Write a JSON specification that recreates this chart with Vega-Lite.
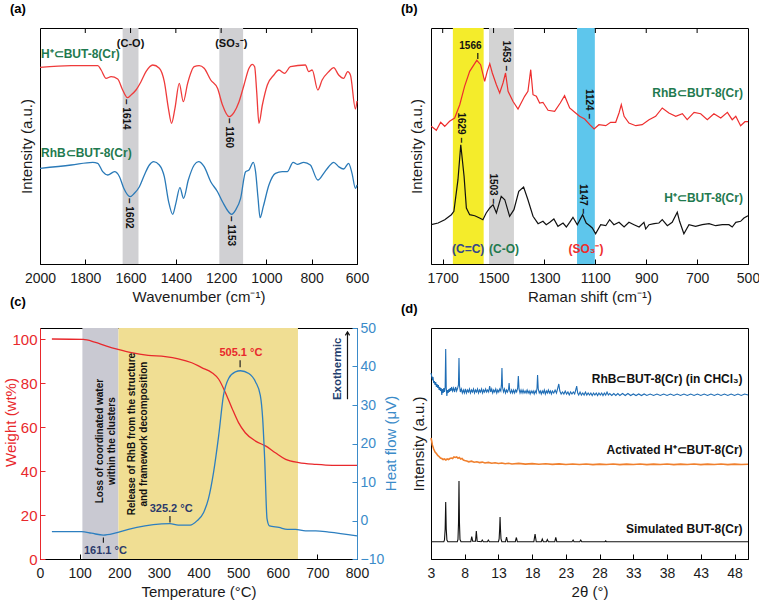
{
"$schema":"https://vega.github.io/schema/vega-lite/v6.json",
"background":"white",
"padding":{"left":2,"top":2,"right":0,"bottom":0},
"autosize":{"type":"pad"},
"config":{
 "font":"Liberation Sans",
 "view":{"stroke":"black","strokeWidth":1},
 "axis":{"grid":false,"labelFontSize":14,"titleFontSize":15,"titleFontWeight":"normal","labelColor":"#1a1a1a","titleColor":"#1a1a1a","domainColor":"black","tickColor":"black","labelFont":"Liberation Sans","titleFont":"Liberation Sans","labelOverlap":false,"labelFlush":false},
 "title":{"fontSize":13,"fontWeight":"bold","anchor":"start","font":"Liberation Sans"},
 "text":{"font":"Liberation Sans"}
},
"datasets":{
"a_red":[{"wn":2000,"v":196.7},{"wn":1862,"v":198.3},{"wn":1745,"v":198.3},{"wn":1730,"v":194},{"wn":1708,"v":185.7},{"wn":1686,"v":187.3},{"wn":1657,"v":185},{"wn":1635,"v":174},{"wn":1614,"v":166.3},{"wn":1598,"v":169},{"wn":1576,"v":174},{"wn":1554,"v":182.3},{"wn":1532,"v":192.3},{"wn":1502,"v":199},{"wn":1473,"v":195.7},{"wn":1451,"v":182.3},{"wn":1433,"v":155.7},{"wn":1419,"v":140.7},{"wn":1404,"v":155.7},{"wn":1385,"v":180.7},{"wn":1367,"v":162.3},{"wn":1348,"v":180.7},{"wn":1319,"v":197.3},{"wn":1297,"v":198.3},{"wn":1275,"v":195.7},{"wn":1246,"v":184},{"wn":1216,"v":175.7},{"wn":1194,"v":159},{"wn":1165,"v":147.3},{"wn":1143,"v":151.7},{"wn":1121,"v":162.3},{"wn":1099,"v":179},{"wn":1077,"v":195.7},{"wn":1062,"v":199.7},{"wn":1052,"v":197.3},{"wn":1043,"v":172.3},{"wn":1033,"v":140.7},{"wn":1018,"v":159},{"wn":996,"v":179},{"wn":967,"v":189},{"wn":945,"v":194},{"wn":920,"v":190.7},{"wn":894,"v":197.3},{"wn":828,"v":199},{"wn":813,"v":192.3},{"wn":798,"v":194},{"wn":773,"v":174},{"wn":754,"v":184},{"wn":725,"v":192.3},{"wn":703,"v":196.3},{"wn":681,"v":189},{"wn":659,"v":185.7},{"wn":641,"v":192.3},{"wn":629,"v":189},{"wn":607,"v":155},{"wn":600,"v":163}],
"a_blue":[{"wn":2000,"v":95.7},{"wn":1862,"v":99},{"wn":1767,"v":101.7},{"wn":1745,"v":100.7},{"wn":1723,"v":92.3},{"wn":1701,"v":89},{"wn":1671,"v":92.3},{"wn":1649,"v":87.3},{"wn":1630,"v":75.7},{"wn":1602,"v":67.3},{"wn":1583,"v":70.7},{"wn":1561,"v":77.3},{"wn":1539,"v":89},{"wn":1517,"v":99},{"wn":1498,"v":102.3},{"wn":1473,"v":99},{"wn":1451,"v":87.3},{"wn":1432,"v":62.3},{"wn":1414,"v":49.7},{"wn":1400,"v":60.7},{"wn":1382,"v":76.3},{"wn":1366,"v":65.7},{"wn":1345,"v":84},{"wn":1319,"v":99},{"wn":1300,"v":102.3},{"wn":1275,"v":97.3},{"wn":1246,"v":82.3},{"wn":1216,"v":72.3},{"wn":1194,"v":62.3},{"wn":1153,"v":49.7},{"wn":1136,"v":54},{"wn":1114,"v":65.7},{"wn":1092,"v":92.3},{"wn":1077,"v":94},{"wn":1058,"v":101.7},{"wn":1048,"v":92.3},{"wn":1037,"v":65.7},{"wn":1028,"v":46.3},{"wn":1014,"v":57.3},{"wn":989,"v":79},{"wn":960,"v":90.7},{"wn":930,"v":92.3},{"wn":908,"v":92.3},{"wn":882,"v":101.7},{"wn":864,"v":99.7},{"wn":835,"v":101.7},{"wn":806,"v":99},{"wn":773,"v":84},{"wn":747,"v":90.7},{"wn":725,"v":97.3},{"wn":703,"v":101.7},{"wn":681,"v":97.3},{"wn":659,"v":95},{"wn":637,"v":100.7},{"wn":622,"v":90.7},{"wn":607,"v":75.7},{"wn":600,"v":79}],
"b_red":[{"wn":1745,"v":137.7},{"wn":1725,"v":133.7},{"wn":1708,"v":141.7},{"wn":1692,"v":137.7},{"wn":1673,"v":142.7},{"wn":1653,"v":146},{"wn":1633,"v":159.3},{"wn":1614,"v":177.7},{"wn":1594,"v":192.7},{"wn":1566,"v":203.7},{"wn":1551,"v":199.3},{"wn":1535,"v":182.7},{"wn":1525,"v":192.7},{"wn":1515,"v":200.3},{"wn":1505,"v":191},{"wn":1489,"v":179.3},{"wn":1476,"v":171},{"wn":1463,"v":181},{"wn":1453,"v":191},{"wn":1443,"v":172.7},{"wn":1424,"v":162.7},{"wn":1404,"v":155},{"wn":1378,"v":167.7},{"wn":1365,"v":172.7},{"wn":1354,"v":194.3},{"wn":1345,"v":169.3},{"wn":1332,"v":167.7},{"wn":1319,"v":161},{"wn":1306,"v":161.7},{"wn":1286,"v":153.7},{"wn":1260,"v":152.7},{"wn":1238,"v":161},{"wn":1221,"v":168.3},{"wn":1201,"v":156},{"wn":1181,"v":151.7},{"wn":1162,"v":147.7},{"wn":1142,"v":145},{"wn":1122,"v":139.3},{"wn":1105,"v":135},{"wn":1086,"v":139.3},{"wn":1059,"v":138.3},{"wn":1040,"v":141.7},{"wn":1020,"v":141.7},{"wn":1007,"v":151},{"wn":998,"v":159.3},{"wn":987,"v":147.7},{"wn":968,"v":141},{"wn":941,"v":138.3},{"wn":916,"v":139.3},{"wn":889,"v":144.3},{"wn":863,"v":147.7},{"wn":837,"v":156},{"wn":811,"v":151},{"wn":784,"v":147.7},{"wn":758,"v":150.3},{"wn":739,"v":144.3},{"wn":712,"v":151.7},{"wn":686,"v":150.3},{"wn":660,"v":144.3},{"wn":634,"v":150.3},{"wn":607,"v":146},{"wn":581,"v":151.7},{"wn":562,"v":144.3},{"wn":548,"v":147.7},{"wn":529,"v":138.3},{"wn":512,"v":142.3},{"wn":500,"v":142.3}],
"b_black":[{"wn":1745,"v":39.3},{"wn":1718,"v":41},{"wn":1692,"v":44.3},{"wn":1666,"v":49.3},{"wn":1656,"v":52.7},{"wn":1640,"v":84.3},{"wn":1629,"v":119.3},{"wn":1616,"v":87.7},{"wn":1607,"v":56},{"wn":1594,"v":49.3},{"wn":1574,"v":48.3},{"wn":1555,"v":46},{"wn":1542,"v":44.3},{"wn":1529,"v":51},{"wn":1515,"v":56},{"wn":1502,"v":59.3},{"wn":1489,"v":51},{"wn":1470,"v":67.7},{"wn":1456,"v":64.3},{"wn":1437,"v":47.7},{"wn":1420,"v":54.3},{"wn":1401,"v":72.7},{"wn":1382,"v":77},{"wn":1365,"v":64.3},{"wn":1345,"v":47.7},{"wn":1325,"v":40.3},{"wn":1306,"v":42.7},{"wn":1293,"v":39.3},{"wn":1279,"v":41.7},{"wn":1263,"v":45},{"wn":1247,"v":37.7},{"wn":1227,"v":41},{"wn":1214,"v":37},{"wn":1201,"v":41.7},{"wn":1188,"v":46.7},{"wn":1171,"v":39.3},{"wn":1150,"v":49.3},{"wn":1136,"v":41},{"wn":1122,"v":38.3},{"wn":1112,"v":36},{"wn":1099,"v":30.3},{"wn":1079,"v":39.3},{"wn":1059,"v":38.3},{"wn":1044,"v":44.3},{"wn":1027,"v":39.3},{"wn":1007,"v":41.7},{"wn":987,"v":37},{"wn":968,"v":41.7},{"wn":948,"v":39.3},{"wn":928,"v":37},{"wn":909,"v":41.7},{"wn":902,"v":35},{"wn":889,"v":39.3},{"wn":869,"v":40.3},{"wn":850,"v":41},{"wn":837,"v":44.3},{"wn":817,"v":38.3},{"wn":798,"v":41.7},{"wn":778,"v":51.7},{"wn":769,"v":42.7},{"wn":752,"v":30.3},{"wn":732,"v":39.3},{"wn":706,"v":37.7},{"wn":680,"v":39.3},{"wn":653,"v":40.3},{"wn":627,"v":38.3},{"wn":601,"v":39.3},{"wn":575,"v":39.3},{"wn":562,"v":37},{"wn":548,"v":41.7},{"wn":529,"v":42.7},{"wn":516,"v":46},{"wn":500,"v":48.3}],
"c_tga":[{"T":30,"w":100},{"T":109,"w":99.8},{"T":138,"w":98.6},{"T":168,"w":96.8},{"T":197,"w":95.3},{"T":231,"w":93.8},{"T":273,"w":92.6},{"T":316,"w":92},{"T":349,"w":91},{"T":383,"w":89.2},{"T":408,"w":87},{"T":434,"w":84.7},{"T":451,"w":81.7},{"T":468,"w":75.6},{"T":484,"w":68.8},{"T":501,"w":62},{"T":518,"w":57.4},{"T":544,"w":53.6},{"T":569,"w":51.4},{"T":594,"w":48.3},{"T":620,"w":45.3},{"T":653,"w":43.8},{"T":696,"w":43},{"T":738,"w":42.6},{"T":800,"w":42.6}],
"c_dsc":[{"T":30,"h":-2.9},{"T":105,"h":-2.9},{"T":130,"h":-3.3},{"T":160,"h":-3.8},{"T":189,"h":-3.3},{"T":223,"h":-2.3},{"T":265,"h":-1.4},{"T":307,"h":-0.9},{"T":328,"h":-0.8},{"T":349,"h":-1.2},{"T":379,"h":-1.2},{"T":396,"h":-0.1},{"T":413,"h":2.1},{"T":425,"h":5.6},{"T":438,"h":12.5},{"T":451,"h":22.1},{"T":463,"h":32.5},{"T":476,"h":36.9},{"T":493,"h":38.6},{"T":506,"h":38.9},{"T":527,"h":38.2},{"T":544,"h":36},{"T":556,"h":32.5},{"T":562,"h":26.4},{"T":567,"h":16},{"T":573,"h":0.4},{"T":579,"h":-1.4},{"T":603,"h":-1.8},{"T":624,"h":-2.3},{"T":645,"h":-2.3},{"T":670,"h":-2.7},{"T":696,"h":-2.7},{"T":729,"h":-3},{"T":800,"h":-4}],
"d_black":[{"t":3,"v":17.3},{"t":4.9,"v":17.3},{"t":5.0,"v":19},{"t":5.1,"v":30},{"t":5.18,"v":57},{"t":5.26,"v":30},{"t":5.36,"v":19},{"t":5.5,"v":17.3},{"t":6.9,"v":17.3},{"t":7.0,"v":19.5},{"t":7.08,"v":36},{"t":7.15,"v":78},{"t":7.22,"v":36},{"t":7.3,"v":19.5},{"t":7.45,"v":17.3},{"t":8.9,"v":17.3},{"t":9.04,"v":22.5},{"t":9.18,"v":17.8},{"t":9.6,"v":17.8},{"t":9.72,"v":28},{"t":9.85,"v":17.8},{"t":10.45,"v":17.3},{"t":10.6,"v":19},{"t":10.75,"v":17.3},{"t":11.35,"v":17.3},{"t":11.5,"v":19},{"t":11.65,"v":17.3},{"t":13.0,"v":17.3},{"t":13.1,"v":20},{"t":13.18,"v":30},{"t":13.24,"v":42},{"t":13.3,"v":30},{"t":13.38,"v":20},{"t":13.5,"v":17.3},{"t":14.05,"v":17.3},{"t":14.2,"v":22},{"t":14.35,"v":17.3},{"t":15.5,"v":17.3},{"t":15.66,"v":21.5},{"t":15.8,"v":17.3},{"t":18.25,"v":17.3},{"t":18.43,"v":25},{"t":18.6,"v":17.3},{"t":19.35,"v":17.3},{"t":19.5,"v":20},{"t":19.65,"v":17.3},{"t":20.1,"v":17.3},{"t":20.25,"v":19.5},{"t":20.4,"v":17.3},{"t":21.35,"v":17.3},{"t":21.5,"v":21.5},{"t":21.65,"v":17.3},{"t":23.9,"v":17.3},{"t":24.07,"v":19},{"t":24.2,"v":17.3},{"t":25.05,"v":17.3},{"t":25.2,"v":19},{"t":25.35,"v":17.3},{"t":28.8,"v":17.3},{"t":28.9,"v":18.2},{"t":29.0,"v":17.3},{"t":50,"v":17.3}],
"d_orange":[{"t":3,"v":121},{"t":3.1,"v":118},{"t":3.2,"v":114},{"t":3.3,"v":112},{"t":3.4,"v":110},{"t":3.5,"v":108.5},{"t":3.6,"v":107},{"t":3.8,"v":105.5},{"t":4.0,"v":103.5},{"t":4.2,"v":102.5},{"t":4.4,"v":101},{"t":4.6,"v":100.5},{"t":4.8,"v":99.5},{"t":5.0,"v":100},{"t":5.2,"v":99},{"t":5.4,"v":100},{"t":5.6,"v":99.5},{"t":5.8,"v":100.5},{"t":6.0,"v":101},{"t":6.2,"v":100.5},{"t":6.4,"v":102},{"t":6.6,"v":101.5},{"t":6.8,"v":102},{"t":7.0,"v":100.8},{"t":7.2,"v":101.5},{"t":7.4,"v":100},{"t":7.6,"v":100.5},{"t":7.8,"v":99},{"t":8.0,"v":98.5},{"t":8.3,"v":98},{"t":8.6,"v":97.2},{"t":9.0,"v":97.8},{"t":9.4,"v":96.8},{"t":9.8,"v":97.3},{"t":10.2,"v":96.4},{"t":10.6,"v":96.9},{"t":11,"v":96},{"t":11.5,"v":96.6},{"t":12,"v":95.8},{"t":12.5,"v":96.3},{"t":13,"v":95.5},{"t":13.5,"v":96},{"t":14,"v":95.3},{"t":14.5,"v":95.8},{"t":15,"v":95},{"t":16,"v":95.6},{"t":17,"v":94.9},{"t":18,"v":95.4},{"t":19,"v":94.7},{"t":20,"v":95.2},{"t":21,"v":94.6},{"t":22,"v":95.1},{"t":23,"v":94.5},{"t":24,"v":95},{"t":25,"v":94.5},{"t":26,"v":95},{"t":27,"v":94.4},{"t":28,"v":94.9},{"t":29,"v":94.5},{"t":30,"v":95},{"t":31,"v":94.4},{"t":32,"v":94.9},{"t":33,"v":94.5},{"t":34,"v":95},{"t":35,"v":94.4},{"t":36,"v":94.9},{"t":37,"v":94.5},{"t":38,"v":95},{"t":39,"v":94.4},{"t":40,"v":94.9},{"t":41,"v":94.5},{"t":42,"v":95},{"t":43,"v":94.4},{"t":44,"v":94.9},{"t":45,"v":94.5},{"t":46,"v":95},{"t":47,"v":94.4},{"t":48,"v":94.9},{"t":49,"v":94.5},{"t":50,"v":94.8}],
"d_blue":[{"t":3.0,"v":186},{"t":3.1,"v":183},{"t":3.2,"v":180},{"t":3.3,"v":182},{"t":3.4,"v":176},{"t":3.5,"v":178},{"t":3.6,"v":174},{"t":3.7,"v":177},{"t":3.8,"v":172},{"t":3.9,"v":175},{"t":4.0,"v":171},{"t":4.1,"v":174},{"t":4.2,"v":169},{"t":4.3,"v":172},{"t":4.4,"v":168},{"t":4.5,"v":171},{"t":4.6,"v":164},{"t":4.7,"v":170},{"t":4.8,"v":166},{"t":4.9,"v":171},{"t":5.0,"v":167},{"t":5.1,"v":172},{"t":5.18,"v":210},{"t":5.26,"v":171},{"t":5.35,"v":163},{"t":5.45,"v":169},{"t":5.55,"v":166},{"t":5.65,"v":170},{"t":5.75,"v":167},{"t":5.85,"v":171},{"t":5.95,"v":168},{"t":6.05,"v":172},{"t":6.2,"v":168},{"t":6.35,"v":171},{"t":6.5,"v":167},{"t":6.65,"v":172},{"t":6.8,"v":168},{"t":6.95,"v":171},{"t":7.07,"v":174},{"t":7.15,"v":201},{"t":7.23,"v":173},{"t":7.35,"v":167},{"t":7.5,"v":170},{"t":7.65,"v":166},{"t":7.8,"v":169},{"t":7.95,"v":166},{"t":8.1,"v":170},{"t":8.25,"v":166},{"t":8.4,"v":169},{"t":8.55,"v":167},{"t":8.7,"v":170},{"t":8.85,"v":166},{"t":9.0,"v":169},{"t":9.15,"v":167},{"t":9.3,"v":170},{"t":9.45,"v":166},{"t":9.6,"v":169},{"t":9.75,"v":167},{"t":9.9,"v":170},{"t":10.05,"v":166},{"t":10.2,"v":169},{"t":10.35,"v":167},{"t":10.5,"v":170},{"t":10.65,"v":166},{"t":10.8,"v":169},{"t":10.95,"v":167},{"t":11.1,"v":170},{"t":11.25,"v":167},{"t":11.4,"v":169},{"t":11.55,"v":167},{"t":11.7,"v":173},{"t":11.85,"v":167},{"t":12.0,"v":170},{"t":12.15,"v":166},{"t":12.3,"v":169},{"t":12.45,"v":167},{"t":12.6,"v":170},{"t":12.75,"v":166},{"t":12.9,"v":169},{"t":13.05,"v":167},{"t":13.2,"v":170},{"t":13.35,"v":168},{"t":13.45,"v":175},{"t":13.52,"v":191},{"t":13.6,"v":172},{"t":13.75,"v":167},{"t":13.9,"v":170},{"t":14.05,"v":166},{"t":14.2,"v":169},{"t":14.35,"v":167},{"t":14.5,"v":170},{"t":14.58,"v":176},{"t":14.68,"v":168},{"t":14.8,"v":166},{"t":14.95,"v":169},{"t":15.1,"v":166},{"t":15.25,"v":169},{"t":15.4,"v":166},{"t":15.55,"v":169},{"t":15.7,"v":167},{"t":15.85,"v":171},{"t":15.95,"v":183},{"t":16.05,"v":170},{"t":16.2,"v":166},{"t":16.35,"v":169},{"t":16.5,"v":166},{"t":16.65,"v":169},{"t":16.8,"v":166},{"t":16.95,"v":168},{"t":17.1,"v":166},{"t":17.25,"v":169},{"t":17.4,"v":166},{"t":17.55,"v":168},{"t":17.7,"v":165},{"t":17.85,"v":168},{"t":18.0,"v":166},{"t":18.15,"v":168},{"t":18.3,"v":165},{"t":18.45,"v":168},{"t":18.6,"v":166},{"t":18.72,"v":171},{"t":18.8,"v":184},{"t":18.9,"v":170},{"t":19.05,"v":166},{"t":19.2,"v":168},{"t":19.35,"v":165},{"t":19.5,"v":168},{"t":19.65,"v":166},{"t":19.8,"v":169},{"t":19.95,"v":165},{"t":20.1,"v":168},{"t":20.25,"v":166},{"t":20.4,"v":169},{"t":20.55,"v":166},{"t":20.7,"v":168},{"t":20.85,"v":165},{"t":21.0,"v":168},{"t":21.2,"v":166},{"t":21.4,"v":169},{"t":21.6,"v":166},{"t":21.8,"v":171},{"t":21.95,"v":175},{"t":22.1,"v":168},{"t":22.3,"v":165},{"t":22.5,"v":167},{"t":22.7,"v":165},{"t":22.9,"v":168},{"t":23.1,"v":165},{"t":23.3,"v":167},{"t":23.5,"v":164},{"t":23.7,"v":167},{"t":23.9,"v":165},{"t":24.1,"v":167},{"t":24.3,"v":165},{"t":24.5,"v":170},{"t":24.6,"v":173},{"t":24.75,"v":166},{"t":24.9,"v":164},{"t":25.1,"v":167},{"t":25.3,"v":164},{"t":25.5,"v":166},{"t":25.7,"v":164},{"t":25.9,"v":167},{"t":26.1,"v":164},{"t":26.3,"v":166},{"t":26.5,"v":164},{"t":26.7,"v":166},{"t":26.9,"v":163.5},{"t":27.1,"v":166},{"t":27.3,"v":164},{"t":27.5,"v":166},{"t":27.7,"v":163.5},{"t":27.9,"v":166},{"t":28.1,"v":164},{"t":28.3,"v":166},{"t":28.5,"v":163.5},{"t":28.7,"v":166},{"t":28.9,"v":164},{"t":29.1,"v":167},{"t":29.3,"v":164},{"t":29.5,"v":165.5},{"t":29.8,"v":163.5},{"t":30.1,"v":165.5},{"t":30.4,"v":163.5},{"t":30.7,"v":165.5},{"t":31.0,"v":163.5},{"t":31.4,"v":165.5},{"t":31.8,"v":163.5},{"t":32.2,"v":165.5},{"t":32.6,"v":163.5},{"t":33.0,"v":165},{"t":33.4,"v":163.5},{"t":33.8,"v":165},{"t":34.2,"v":163.5},{"t":34.6,"v":165},{"t":35.0,"v":163.5},{"t":35.5,"v":165},{"t":36.0,"v":163.5},{"t":36.5,"v":165},{"t":37.0,"v":163.5},{"t":37.5,"v":165},{"t":38.0,"v":163.5},{"t":38.5,"v":165},{"t":39.0,"v":163.5},{"t":39.5,"v":165},{"t":40.0,"v":163.5},{"t":40.5,"v":165},{"t":41.0,"v":163.5},{"t":41.5,"v":165},{"t":42.0,"v":163.5},{"t":42.5,"v":165},{"t":43.0,"v":163.5},{"t":43.5,"v":165},{"t":44.0,"v":163.5},{"t":44.5,"v":165},{"t":45.0,"v":163.5},{"t":45.5,"v":165},{"t":46.0,"v":163.5},{"t":46.5,"v":165},{"t":47.0,"v":163.5},{"t":47.5,"v":165},{"t":48.0,"v":163.5},{"t":48.5,"v":165},{"t":49.0,"v":163.5},{"t":49.5,"v":165},{"t":50.0,"v":164}]
},
"columns":2,
"spacing":{"row":64,"column":74},
"bounds":"flush",
"align":"each",
"concat":[
 {"width":317,"height":236,
  "title":{"text":"(a)","dx":-30,"offset":12,"frame":"group"},
  "layer":[
   {"data":{"values":[{"x1":1635,"x2":1565},{"x1":1208,"x2":1103}]},
    "mark":{"type":"rect","color":"#d0d0d3"},
    "encoding":{"x":{"field":"x1","type":"quantitative","scale":{"domain":[600,2000],"reverse":true,"nice":false,"zero":false},"axis":{"title":"Wavenumber (cm⁻¹)","values":[2000,1800,1600,1400,1200,1000,800,600],"format":"d","tickSize":-5,"labelPadding":12,"titlePadding":4,"labelOverlap":false}},"x2":{"field":"x2"}}},
   {"data":{"values":[{"wn":1800,"v":236,"v2":231},{"wn":1600,"v":236,"v2":231},{"wn":1400,"v":236,"v2":231},{"wn":1200,"v":236,"v2":231},{"wn":1000,"v":236,"v2":231},{"wn":800,"v":236,"v2":231}]},
    "mark":{"type":"rule","color":"black","strokeWidth":1},
    "encoding":{"x":{"field":"wn","type":"quantitative"},"y":{"field":"v","type":"quantitative"},"y2":{"field":"v2"}}},
   {"data":{"name":"a_red"},"mark":{"type":"line","color":"#ef3b3b","strokeWidth":1.3,"interpolate":"monotone"},
    "encoding":{"x":{"field":"wn","type":"quantitative"},
     "y":{"field":"v","type":"quantitative","scale":{"domain":[0,236],"nice":false,"zero":false},"axis":{"title":"Intensity (a.u.)","labels":false,"ticks":false,"domain":false,"titlePadding":6}}}},
   {"data":{"name":"a_blue"},"mark":{"type":"line","color":"#2a7ab8","strokeWidth":1.3,"interpolate":"monotone"},
    "encoding":{"x":{"field":"wn","type":"quantitative"},"y":{"field":"v","type":"quantitative"}}},
   {"data":{"values":[{"wn":2000,"v":210,"s":"H⁺⊂BUT-8(Cr)"},{"wn":2000,"v":111,"s":"RhB⊂BUT-8(Cr)"}]},
    "mark":{"type":"text","align":"left","baseline":"middle","fontSize":12,"fontWeight":"bold","color":"#1f7a4f","dx":1},
    "encoding":{"x":{"field":"wn","type":"quantitative"},"y":{"field":"v","type":"quantitative"},"text":{"field":"s","type":"nominal"}}},
   {"data":{"values":[{"wn":1600,"v":220,"s":"(C-O)"},{"wn":1155,"v":220,"s":"(SO₃⁻)"}]},
    "mark":{"type":"text","align":"center","baseline":"middle","fontSize":11,"fontWeight":"bold","color":"#111"},
    "encoding":{"x":{"field":"wn","type":"quantitative"},"y":{"field":"v","type":"quantitative"},"text":{"field":"s","type":"nominal"}}},
   {"data":{"values":[{"wn":1618,"v":165,"s":"– 1614"},{"wn":1165,"v":146,"s":"– 1160"},{"wn":1606,"v":66,"s":"– 1602"},{"wn":1158,"v":48,"s":"– 1153"}]},
    "mark":{"type":"text","align":"left","baseline":"middle","angle":90,"fontSize":10,"fontWeight":"bold","color":"#111"},
    "encoding":{"x":{"field":"wn","type":"quantitative"},"y":{"field":"v","type":"quantitative"},"text":{"field":"s","type":"nominal"}}}
  ]},
 {"width":317,"height":236,
  "title":{"text":"(b)","dx":-30,"offset":12,"frame":"group"},
  "layer":[
   {"data":{"values":[{"x1":1660,"x2":1539}]},
    "mark":{"type":"rect","color":"#f4ec2b"},
    "encoding":{"x":{"field":"x1","type":"quantitative","scale":{"domain":[500,1746],"reverse":true,"nice":false,"zero":false},"axis":{"title":"Raman shift (cm⁻¹)","values":[1700,1500,1300,1100,900,700,500],"format":"d","tickSize":-5,"labelPadding":12,"titlePadding":4,"labelOverlap":false}},"x2":{"field":"x2"}}},
   {"data":{"values":[{"x1":1518,"x2":1420}]},
    "mark":{"type":"rect","color":"#d3d3d3"},
    "encoding":{"x":{"field":"x1","type":"quantitative"},"x2":{"field":"x2"}}},
   {"data":{"values":[{"x1":1172,"x2":1102}]},
    "mark":{"type":"rect","color":"#5ec6ec"},
    "encoding":{"x":{"field":"x1","type":"quantitative"},"x2":{"field":"x2"}}},
   {"data":{"values":[{"wn":1700,"v":236,"v2":231},{"wn":1500,"v":236,"v2":231},{"wn":1300,"v":236,"v2":231},{"wn":1100,"v":236,"v2":231},{"wn":900,"v":236,"v2":231},{"wn":700,"v":236,"v2":231}]},
    "mark":{"type":"rule","color":"black","strokeWidth":1},
    "encoding":{"x":{"field":"wn","type":"quantitative"},"y":{"field":"v","type":"quantitative"},"y2":{"field":"v2"}}},
   {"data":{"name":"b_red"},"mark":{"type":"line","color":"#ee2e2e","strokeWidth":1.2},
    "encoding":{"x":{"field":"wn","type":"quantitative"},
     "y":{"field":"v","type":"quantitative","scale":{"domain":[0,236],"nice":false,"zero":false},"axis":{"title":"Intensity (a.u.)","labels":false,"ticks":false,"domain":false,"titlePadding":7}}}},
   {"data":{"name":"b_black"},"mark":{"type":"line","color":"#111","strokeWidth":1.2},
    "encoding":{"x":{"field":"wn","type":"quantitative"},"y":{"field":"v","type":"quantitative"}}},
   {"data":{"values":[{"wn":520,"v":171,"s":"RhB⊂BUT-8(Cr)"},{"wn":520,"v":66,"s":"H⁺⊂BUT-8(Cr)"}]},
    "mark":{"type":"text","align":"right","baseline":"middle","fontSize":12,"fontWeight":"bold","color":"#1f7a4f"},
    "encoding":{"x":{"field":"wn","type":"quantitative"},"y":{"field":"v","type":"quantitative"},"text":{"field":"s","type":"nominal"}}},
   {"data":{"values":[{"wn":1600,"v":15,"s":"(C=C)"}]},
    "mark":{"type":"text","align":"center","baseline":"middle","fontSize":12,"fontWeight":"bold","color":"#34478a"},
    "encoding":{"x":{"field":"wn","type":"quantitative"},"y":{"field":"v","type":"quantitative"},"text":{"field":"s","type":"nominal"}}},
   {"data":{"values":[{"wn":1459,"v":15,"s":"(C-O)"}]},
    "mark":{"type":"text","align":"center","baseline":"middle","fontSize":12,"fontWeight":"bold","color":"#1f7a4f"},
    "encoding":{"x":{"field":"wn","type":"quantitative"},"y":{"field":"v","type":"quantitative"},"text":{"field":"s","type":"nominal"}}},
   {"data":{"values":[{"wn":1137,"v":15,"s":"(SO₃⁻)"}]},
    "mark":{"type":"text","align":"center","baseline":"middle","fontSize":12,"fontWeight":"bold","color":"#ee2e2e"},
    "encoding":{"x":{"field":"wn","type":"quantitative"},"y":{"field":"v","type":"quantitative"},"text":{"field":"s","type":"nominal"}}},
   {"data":{"values":[{"wn":1591,"v":218,"s":"1566"}]},
    "mark":{"type":"text","align":"center","baseline":"middle","fontSize":10,"fontWeight":"bold","color":"#111"},
    "encoding":{"x":{"field":"wn","type":"quantitative"},"y":{"field":"v","type":"quantitative"},"text":{"field":"s","type":"nominal"}}},
   {"data":{"values":[{"wn":1562,"v":205,"v2":211}]},
    "mark":{"type":"rule","color":"#111","strokeWidth":1.2},
    "encoding":{"x":{"field":"wn","type":"quantitative"},"y":{"field":"v","type":"quantitative"},"y2":{"field":"v2"}}},
   {"data":{"values":[{"wn":1453,"v":193,"s":"1453 –"},{"wn":1124,"v":145,"s":"1124 –"},{"wn":1629,"v":121,"s":"1629 –"},{"wn":1503,"v":60,"s":"1503 –"},{"wn":1150,"v":50,"s":"1147 –"}]},
    "mark":{"type":"text","align":"right","baseline":"middle","angle":90,"fontSize":10,"fontWeight":"bold","color":"#111"},
    "encoding":{"x":{"field":"wn","type":"quantitative"},"y":{"field":"v","type":"quantitative"},"text":{"field":"s","type":"nominal"}}}
  ]},
 {"width":317,"height":231,
  "title":{"text":"(c)","dx":-30,"offset":12,"frame":"group"},
  "encoding":{"x":{"field":"T","type":"quantitative","scale":{"domain":[0,800],"nice":false,"zero":false},"axis":{"title":"Temperature (°C)","values":[0,100,200,300,400,500,600,700,800],"tickSize":-5,"labelPadding":12,"titlePadding":4,"labelOverlap":false}}},
  "resolve":{"scale":{"y":"independent"}},
  "layer":[
   {"encoding":{"y":{"field":"w","type":"quantitative","scale":{"domain":[0,105],"nice":false,"zero":false},"axis":{"orient":"left","title":"Weight (wt%)","values":[0,20,40,60,80,100],"tickSize":-5,"labelPadding":8,"labelOverlap":false,"domainColor":"#e8282c","tickColor":"#e8282c","labelColor":"#e8282c","titleColor":"#e8282c","labelFontSize":15,"titleFontSize":15,"titleX":-30,"titleY":94,"titleBaseline":"middle"}}},
    "layer":[
     {"data":{"values":[{"T":107,"T2":198,"w":0,"w2":105}]},
      "mark":{"type":"rect","color":"#c9c9d2"},
      "encoding":{"x2":{"field":"T2"},"y2":{"field":"w2"}}},
     {"data":{"values":[{"T":198,"T2":651,"w":0,"w2":105}]},
      "mark":{"type":"rect","color":"#f0de93"},
      "encoding":{"x2":{"field":"T2"},"y2":{"field":"w2"}}},
     {"data":{"name":"c_tga"},"mark":{"type":"line","color":"#e8282c","strokeWidth":1.3,"interpolate":"monotone"}},
     {"data":{"values":[{"T":151,"w":53.6,"s":"Loss of coordinated water\nwithin the clusters"},{"T":232,"w":56.8,"s":"Release of RhB from the structure\nand framework decomposition"}]},
      "mark":{"type":"text","align":"center","baseline":"middle","angle":-90,"fontSize":10,"fontWeight":"bold","color":"#111","lineBreak":"\n","lineHeight":12.5},
      "encoding":{"text":{"field":"s","type":"nominal"}}}
   ]},
   {"encoding":{"y":{"field":"h","type":"quantitative","scale":{"domain":[-10,50],"nice":false,"zero":false},"axis":{"orient":"right","title":"Heat flow (μV)","values":[-10,0,10,20,30,40,50],"tickSize":-5,"labelPadding":8,"labelOverlap":false,"domainColor":"#3b8bc9","tickColor":"#3b8bc9","labelColor":"#3b8bc9","titleColor":"#3b8bc9","titleAngle":-90,"titleX":33,"titleY":115,"titleBaseline":"middle","titleAlign":"center"}}},
    "layer":[
     {"data":{"name":"c_dsc"},"mark":{"type":"line","color":"#2d7fc0","strokeWidth":1.3,"interpolate":"monotone"}},
     {"data":{"values":[{"T":507,"h":43.4,"s":"505.1 °C"}]},
      "mark":{"type":"text","align":"center","baseline":"middle","fontSize":11,"fontWeight":"bold","color":"#e8282c"},
      "encoding":{"text":{"field":"s","type":"nominal"}}},
     {"data":{"values":[{"T":331,"h":3.0,"s":"325.2 °C"},{"T":165,"h":-8,"s":"161.1 °C"}]},
      "mark":{"type":"text","align":"center","baseline":"middle","fontSize":11,"fontWeight":"bold","color":"#2b3a6b"},
      "encoding":{"text":{"field":"s","type":"nominal"}}},
     {"data":{"values":[{"T":505,"h":39.8,"h2":41.6},{"T":328,"h":-0.5,"h2":1.2},{"T":160,"h":-5.8,"h2":-4.4}]},
      "mark":{"type":"rule","color":"#222","strokeWidth":1.2},
      "encoding":{"y2":{"field":"h2"}}},
     {"data":{"values":[{"T":751,"h":39.4,"s":"Exothermic"}]},
      "mark":{"type":"text","align":"center","baseline":"middle","angle":-90,"fontSize":11.5,"fontWeight":"bold","color":"#24406e"},
      "encoding":{"text":{"field":"s","type":"nominal"}}},
     {"data":{"values":[{"T":776,"h":31.5,"h2":49}]},
      "mark":{"type":"rule","color":"#111","strokeWidth":1.2},
      "encoding":{"y2":{"field":"h2"}}},
     {"data":{"values":[{"T":776,"h":49}]},
      "mark":{"type":"point","shape":"M-0.6,1L0,0L0.6,1","size":50,"filled":false,"color":"#111","strokeWidth":1.2,"opacity":1}}
   ]}
  ]},
 {"width":317,"height":231,
  "title":{"text":"(d)","dx":-30,"offset":12,"frame":"group"},
  "encoding":{"x":{"field":"t","type":"quantitative","scale":{"domain":[3,50],"nice":false,"zero":false},"axis":{"title":"2θ (°)","values":[3,8,13,18,23,28,33,38,43,48],"tickSize":-5,"labelPadding":12,"titlePadding":4,"labelOverlap":false}},
     "y":{"field":"v","type":"quantitative","scale":{"domain":[0,231],"nice":false,"zero":false},"axis":{"title":"Intensity (a.u.)","labels":false,"ticks":false,"domain":false,"titlePadding":5}}},
  "layer":[
   {"data":{"name":"d_black"},"mark":{"type":"line","color":"#111","strokeWidth":1.1}},
   {"data":{"name":"d_orange"},"mark":{"type":"line","color":"#f0802e","strokeWidth":1.6}},
   {"data":{"name":"d_blue"},"mark":{"type":"line","color":"#1f6db5","strokeWidth":1.1}},
   {"data":{"values":[{"t":49.2,"v":180,"s":"RhB⊂BUT-8(Cr) (in CHCl₃)"},{"t":49.2,"v":109,"s":"Activated H⁺⊂BUT-8(Cr)"},{"t":49.2,"v":30,"s":"Simulated BUT-8(Cr)"}]},
    "mark":{"type":"text","align":"right","baseline":"middle","fontSize":12,"fontWeight":"bold","color":"#111"},
    "encoding":{"text":{"field":"s","type":"nominal"}}}
  ]}
]
}
